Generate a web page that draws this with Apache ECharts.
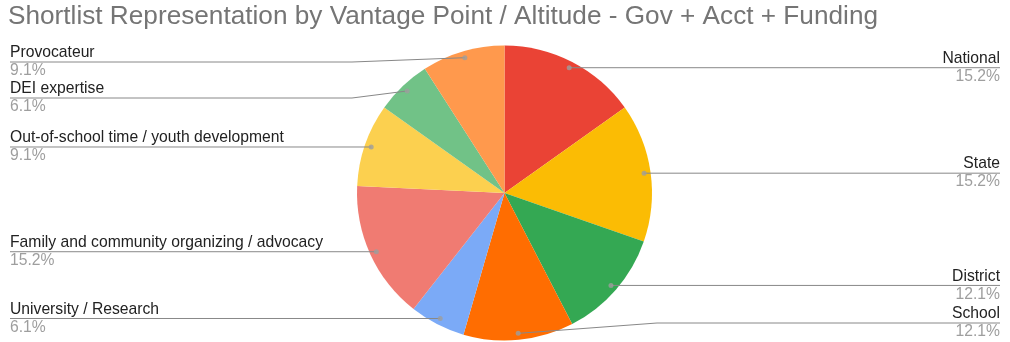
<!DOCTYPE html>
<html>
<head>
<meta charset="utf-8">
<script src="https://cdn.jsdelivr.net/npm/echarts@6/dist/echarts.min.js"></script>
<style>
  html, body { margin: 0; padding: 0; background: #ffffff; }
  #chart { width: 1010px; height: 342px; }
</style>
</head>
<body>
<div id="chart"></div>
<script>
// Shortlist share by vantage point, in percent (clockwise from 12 o'clock)
const categories = [
  'National',
  'State',
  'District',
  'School',
  'University / Research',
  'Family and community organizing / advocacy',
  'Out-of-school time / youth development',
  'DEI expertise',
  'Provocateur'
];
const shares = [15.2, 15.2, 12.1, 12.1, 6.1, 15.2, 9.1, 6.1, 9.1];
const sliceColors = [
  '#EA4335', '#FBBC04', '#34A853', '#FF6D01', '#7BAAF7',
  '#F07B72', '#FCD04F', '#71C287', '#FF994D'
];
const titleText = 'Shortlist Representation by Vantage Point / Altitude - Gov + Acct + Funding';

// Geometry of the pie and its callouts (pixels)
const CX = 504.5, CY = 193, R = 147.5, R_DOT = 141;
const LABEL_TOP = 44, LABEL_BOTTOM = 341, LABEL_H = 36;
const FONT = '"Liberation Sans", Arial, Helvetica, sans-serif';

const total = shares.reduce((a, b) => a + b, 0);

// Anchor dots sit at the middle angle of each slice
const midValues = [];
(function () {
  let acc = 0;
  shares.forEach(v => { midValues.push(acc + v / 2); acc += v; });
})();
const dotData = midValues.map(m => [1, m]);

// Callout rows: start level with the anchor, then keep rows apart
// and inside the band between LABEL_TOP and LABEL_BOTTOM, per side.
const calloutY = (function () {
  const ys = new Array(shares.length);
  const sides = { left: [], right: [] };
  midValues.forEach((m, i) => {
    const a = m / total * Math.PI * 2;
    const y = CY - R_DOT * Math.cos(a);
    (Math.sin(a) < 0 ? sides.left : sides.right).push({ i: i, y: y });
  });
  Object.keys(sides).forEach(k => {
    const list = sides[k].sort((p, q) => p.y - q.y);
    let prev = LABEL_TOP + LABEL_H / 2 - LABEL_H;
    list.forEach(p => { p.y = Math.max(p.y, prev + LABEL_H); prev = p.y; });
    let next = LABEL_BOTTOM - LABEL_H / 2 + LABEL_H;
    for (let j = list.length - 1; j >= 0; j--) {
      list[j].y = Math.min(list[j].y, next - LABEL_H);
      next = list[j].y;
    }
    list.forEach(p => { ys[p.i] = p.y; });
  });
  return ys;
})();

const chart = echarts.init(document.getElementById('chart'), null, { renderer: 'canvas' });

chart.setOption({
  animation: false,
  backgroundColor: '#ffffff',
  textStyle: { fontFamily: FONT },
  title: {
    text: titleText,
    left: 3,
    top: 0,
    padding: [4, 5, 5, 5],
    textStyle: {
      fontFamily: FONT,
      fontSize: 26.2,
      fontWeight: 'normal',
      color: '#757575'
    }
  },
  polar: { center: [CX, CY], radius: R_DOT },
  angleAxis: {
    type: 'value', min: 0, max: total, startAngle: 90, clockwise: true,
    show: false,
    axisLine: { show: false }, axisTick: { show: false },
    axisLabel: { show: false }, splitLine: { show: false }
  },
  radiusAxis: {
    type: 'value', min: 0, max: 1, show: false,
    axisLine: { show: false }, axisTick: { show: false },
    axisLabel: { show: false }, splitLine: { show: false }
  },
  series: [
    {
      // the visible slices
      type: 'pie',
      center: [CX, CY],
      radius: R,
      startAngle: 90,
      clockwise: true,
      silent: true,
      label: { show: false },
      labelLine: { show: false },
      itemStyle: { borderWidth: 0 },
      emphasis: { disabled: true },
      data: categories.map((name, i) => ({
        name: name,
        value: shares[i],
        itemStyle: { color: sliceColors[i] }
      })),
      z: 1
    },
    {
      // transparent twin carrying the callout labels; its rim is where the leaders start
      type: 'pie',
      center: [CX, CY],
      radius: R_DOT,
      startAngle: 90,
      clockwise: true,
      silent: true,
      avoidLabelOverlap: false,
      itemStyle: { color: 'rgba(0,0,0,0)', borderWidth: 0 },
      emphasis: { disabled: true },
      label: {
        show: true,
        position: 'outside',
        alignTo: 'edge',
        edgeDistance: 10,
        formatter: p => '{n|' + p.name + '}\n{p|' + p.value + '%}',
        rich: {
          n: { fontFamily: FONT, fontSize: 15.7, lineHeight: 18, color: '#222222' },
          p: { fontFamily: FONT, fontSize: 15.7, lineHeight: 18, color: '#9e9e9e' }
        }
      },
      labelLine: {
        show: true,
        length: 0,
        length2: 0,
        smooth: false,
        lineStyle: { color: '#888888', width: 1 }
      },
      labelLayout: function (params) {
        const pts = params.labelLinePoints;
        const y = calloutY[params.dataIndex];
        if (!pts) return { y: y };
        const isLeft = params.labelRect.x < CX;
        // bend just outside the pie's bounding box, then run under the label
        let bend = isLeft ? CX - R - 5 : CX + R + 5;
        if (isLeft ? bend > pts[0][0] : bend < pts[0][0]) bend = pts[0][0];
        const end = isLeft ? params.labelRect.x : params.labelRect.x + params.labelRect.width;
        return {
          y: y,
          labelLinePoints: [[pts[0][0], pts[0][1]], [bend, y], [end, y]]
        };
      },
      data: categories.map((name, i) => ({ name: name, value: shares[i] })),
      z: 3
    },
    {
      type: 'scatter',
      coordinateSystem: 'polar',
      symbol: 'circle',
      symbolSize: 5,
      silent: true,
      itemStyle: { color: '#9e9e9e' },
      data: dotData,
      z: 5
    }
  ]
});
</script>
</body>
</html>
